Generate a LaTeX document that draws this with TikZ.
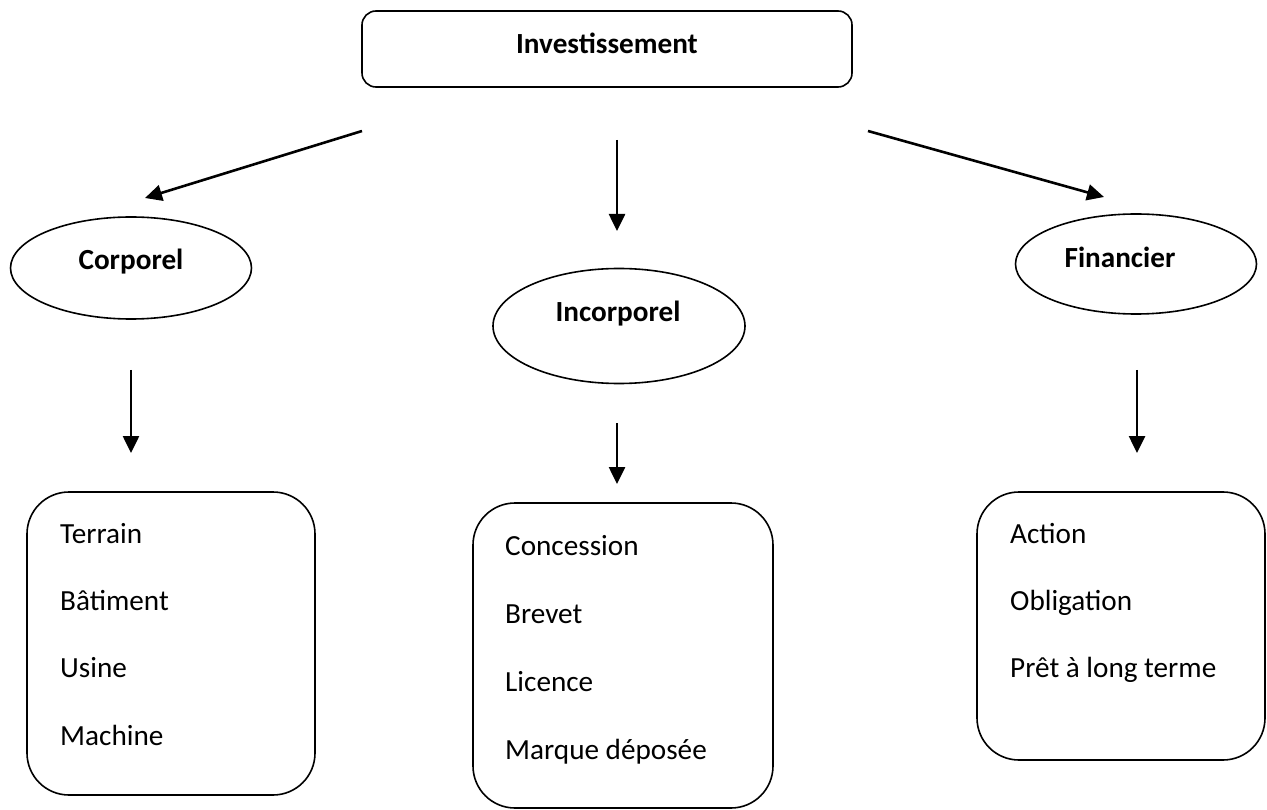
\documentclass[tikz,border=0pt]{standalone}
\usepackage{fontspec}
\setmainfont{Carlito}
\usetikzlibrary{arrows.meta,shapes.geometric}
\begin{document}
\begin{tikzpicture}[x=1pt,y=-1pt,
  every node/.style={font=\fontsize{29.2}{34}\selectfont},
  rbox/.style={draw,line width=1.6pt,rounded corners=#1,inner sep=0pt},
  oval/.style={draw,ellipse,line width=1.6pt,inner sep=0pt},
  lbl/.style={font=\fontsize{29.2}{34}\selectfont\bfseries,inner sep=0pt,anchor=base},
  item/.style={inner sep=0pt,anchor=base west},
  arr/.style={line width=2.6pt,-{Triangle[length=17pt,width=16pt]}}]
\useasboundingbox (0,0) rectangle (1267,810);
% top box
\node[rbox=14pt,minimum width=490pt,minimum height=76pt] (top) at (607,49) {};
\node[lbl] (topt) at (607,54) {Investissement};
% ellipses
\node[oval,minimum width=241pt,minimum height=102pt] (corp) at (131,268) {};
\node[lbl] (corpt) at (131,270) {Corporel};
\node[oval,minimum width=252pt,minimum height=115pt] (incorp) at (619,326) {};
\node[lbl] (incorpt) at (618,322) {Incorporel};
\node[oval,minimum width=241pt,minimum height=100pt] (fin) at (1136,264) {};
\node[lbl] (fint) at (1120,268) {Financier};
% lower boxes
\node[rbox=42pt,minimum width=288pt,minimum height=303pt] (b1) at (171,643.5) {};
\node[rbox=42pt,minimum width=300pt,minimum height=305pt] (b2) at (623,655.5) {};
\node[rbox=42pt,minimum width=288pt,minimum height=268pt] (b3) at (1121,626) {};
% items
\node[item] (t1) at (60,543) {Terrain};
\node[item] (t2) at (60,610) {Bâtiment};
\node[item] (t3) at (60,677) {Usine};
\node[item] (t4) at (60,745) {Machine};
\node[item] (c1) at (505,555) {Concession};
\node[item] (c2) at (505,623) {Brevet};
\node[item] (c3) at (505,691) {Licence};
\node[item] (c4) at (505,759) {Marque déposée};
\node[item] (f1) at (1010,543) {Action};
\node[item] (f2) at (1010,610) {Obligation};
\node[item] (f3) at (1010,677) {Prêt à long terme};
% arrow end points
\coordinate (a1s) at (362,131); \coordinate (a1e) at (145,198);
\coordinate (a2s) at (617,140); \coordinate (a2e) at (617,231);
\coordinate (a3s) at (868,131); \coordinate (a3e) at (1104,197);
\coordinate (d1s) at (131,370); \coordinate (d1e) at (131,453);
\coordinate (d2s) at (617,423); \coordinate (d2e) at (617,484);
\coordinate (d3s) at (1137,370); \coordinate (d3e) at (1137,453);
\draw[arr] (a1s) -- (a1e);
\draw[arr] (a2s) -- (a2e);
\draw[arr] (a3s) -- (a3e);
\draw[arr] (d1s) -- (d1e);
\draw[arr] (d2s) -- (d2e);
\draw[arr] (d3s) -- (d3e);
\end{tikzpicture}
\end{document}
